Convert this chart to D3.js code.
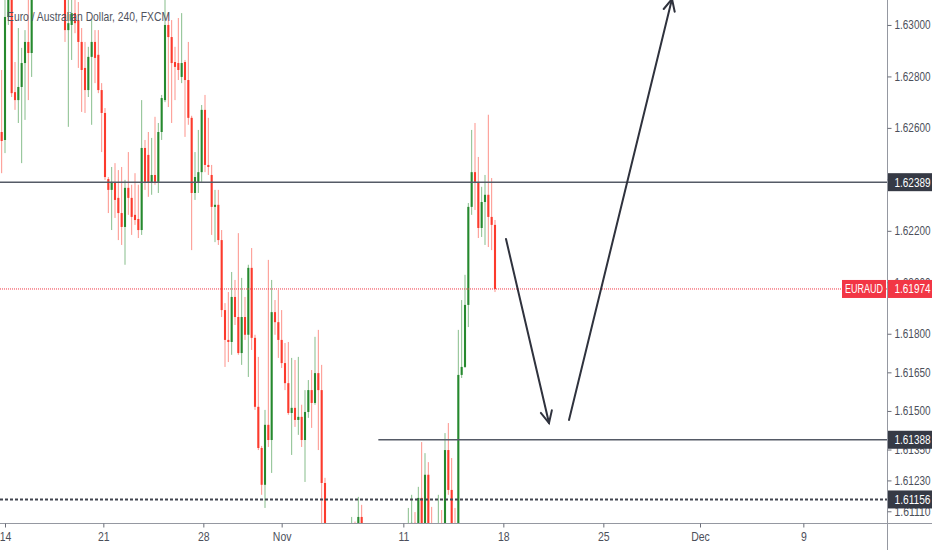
<!DOCTYPE html>
<html>
<head>
<meta charset="utf-8">
<script src="https://cdn.jsdelivr.net/npm/d3@7"></script>
<style>
  html, body { margin: 0; padding: 0; background: #fff; }
  svg { display: block; }
</style>
</head>
<body>
<div id="chart"></div>
<script>
// EUR/AUD 4h candles (bar index 0 = Oct 14 open)
var firstBar = -1;
var opens = [1.62584,1.62553,1.63031,1.63116,1.62739,1.62708,1.62759,1.62852,1.62934,1.62891,
  1.63136,1.63250,1.63210,1.63300,1.63370,1.63290,1.63200,1.63260,1.63180,1.63109,
  1.62980,1.63000,1.63046,1.63019,1.62934,1.62833,1.62747,1.62876,1.62934,1.62884,
  1.62747,1.62658,1.62401,1.62359,1.62386,1.62328,1.62269,1.62215,1.62367,1.62328,
  1.62262,1.62246,1.62203,1.62522,1.62495,1.62386,1.62417,1.62390,1.62584,1.62708,
  1.63000,1.62953,1.62856,1.62852,1.62798,1.62856,1.62786,1.62639,1.62347,1.62390,
  1.62428,1.62670,1.62456,1.62417,1.62293,1.62301,1.62164,1.61892,1.61776,1.61768,
  1.61943,1.61865,1.61725,1.61865,1.61796,1.62056,1.61784,1.61516,1.61356,1.61213,
  1.61446,1.61387,1.61884,1.61845,1.61776,1.61686,1.61608,1.61492,1.61512,1.61465,
  1.61477,1.61387,1.61496,1.61581,1.61531,1.61647,1.61581,1.61220,1.61037,1.60950,
  1.60990,1.60930,1.60960,1.61000,1.60980,1.61020,1.61050,1.61010,1.61088,1.60990,
  1.60920,1.60950,1.60900,1.60930,1.60980,1.60940,1.60910,1.60940,1.60990,1.61010,
  1.60990,1.61020,1.61030,1.61060,1.61065,1.61020,1.61162,1.61040,1.61252,1.61060,
  1.61000,1.61030,1.61060,1.61010,1.61348,1.61193,1.60990,1.60960,1.61640,1.61671,
  1.61912,1.62293,1.62428,1.62390,1.62211,1.62312,1.62340,1.62254,1.62223];
var highs = [1.62825,1.63155,1.63252,1.63175,1.62856,1.62988,1.62911,1.62980,1.63116,1.63175,
  1.63290,1.63380,1.63330,1.63420,1.63450,1.63350,1.63310,1.63300,1.63240,1.63175,
  1.63116,1.63116,1.63109,1.63089,1.62988,1.62934,1.62915,1.63019,1.62980,1.62980,
  1.62774,1.62677,1.62409,1.62448,1.62463,1.62436,1.62448,1.62398,1.62506,1.62379,
  1.62424,1.62379,1.62708,1.62553,1.62584,1.62561,1.62643,1.62619,1.62728,1.63109,
  1.63046,1.63019,1.62915,1.63027,1.63046,1.62864,1.62934,1.62647,1.62506,1.62592,
  1.62689,1.62728,1.62639,1.62456,1.62359,1.62359,1.62203,1.61919,1.61962,1.62040,
  1.62009,1.62191,1.62017,1.61943,1.62068,1.62133,1.61796,1.61710,1.61364,1.61504,
  1.62087,1.62009,1.61931,1.61970,1.61892,1.61764,1.61768,1.61706,1.61698,1.61710,
  1.61524,1.61581,1.61620,1.61659,1.61788,1.61815,1.61679,1.61240,1.61060,1.61010,
  1.61040,1.60980,1.61030,1.61050,1.61040,1.61088,1.61070,1.61166,1.61135,1.61030,
  1.60980,1.61000,1.60960,1.61010,1.61040,1.60990,1.60970,1.61010,1.61050,1.61060,
  1.61050,1.61060,1.61123,1.61174,1.61107,1.61205,1.61379,1.61336,1.61301,1.61127,
  1.61050,1.61174,1.61115,1.61414,1.61453,1.61317,1.61123,1.61815,1.61931,1.62029,
  1.62308,1.62592,1.62619,1.62487,1.62371,1.62417,1.62651,1.62405,1.62242];
var lows = [1.62424,1.62502,1.63000,1.62720,1.62670,1.62619,1.62463,1.62631,1.62708,1.62798,
  1.63110,1.63180,1.63140,1.63230,1.63260,1.63170,1.63130,1.63150,1.63110,1.62934,
  1.62604,1.62864,1.62968,1.62833,1.62662,1.62658,1.62720,1.62612,1.62774,1.62735,
  1.62506,1.62398,1.62269,1.62203,1.62250,1.62164,1.62145,1.62068,1.62262,1.62184,
  1.62223,1.62172,1.62184,1.62359,1.62332,1.62340,1.62379,1.62347,1.62553,1.62700,
  1.62681,1.62619,1.62708,1.62786,1.62774,1.62565,1.62612,1.62125,1.62320,1.62347,
  1.62390,1.62428,1.62417,1.62184,1.62156,1.62145,1.61865,1.61671,1.61690,1.61718,
  1.61834,1.61718,1.61679,1.61776,1.61632,1.61737,1.61504,1.61348,1.61174,1.61123,
  1.61360,1.61259,1.61796,1.61706,1.61667,1.61581,1.61485,1.61329,1.61438,1.61407,
  1.61360,1.61224,1.61473,1.61434,1.61524,1.61348,1.61064,1.60980,1.60920,1.60880,
  1.60900,1.60850,1.60910,1.60940,1.60930,1.60970,1.60980,1.60990,1.60960,1.60900,
  1.60850,1.60880,1.60840,1.60900,1.60920,1.60870,1.60850,1.60900,1.60950,1.60960,
  1.60940,1.60970,1.60990,1.61010,1.60980,1.61000,1.61020,1.61010,1.61000,1.60980,
  1.60950,1.60990,1.60970,1.60990,1.61174,1.60950,1.60920,1.60940,1.61628,1.61667,
  1.61826,1.62262,1.62281,1.62172,1.62176,1.62145,1.62137,1.62125,1.61962];
var closes = [1.62549,1.63031,1.63116,1.62735,1.62708,1.62759,1.62852,1.62934,1.62891,1.63136,
  1.63250,1.63210,1.63300,1.63370,1.63290,1.63200,1.63260,1.63180,1.63120,1.62980,
  1.63007,1.63046,1.63007,1.62934,1.62825,1.62747,1.62876,1.62934,1.62872,1.62747,
  1.62658,1.62409,1.62359,1.62390,1.62320,1.62269,1.62215,1.62367,1.62328,1.62254,
  1.62242,1.62203,1.62522,1.62390,1.62386,1.62417,1.62390,1.62584,1.62716,1.63000,
  1.62953,1.62852,1.62837,1.62825,1.62852,1.62786,1.62639,1.62347,1.62409,1.62428,
  1.62670,1.62456,1.62448,1.62293,1.62301,1.62164,1.61892,1.61776,1.61768,1.61943,
  1.61865,1.61725,1.61865,1.61796,1.62056,1.61784,1.61516,1.61356,1.61213,1.61446,
  1.61387,1.61884,1.61845,1.61776,1.61686,1.61608,1.61492,1.61512,1.61465,1.61477,
  1.61387,1.61496,1.61581,1.61531,1.61647,1.61581,1.61220,1.61037,1.60950,1.60990,
  1.60930,1.60960,1.61000,1.60980,1.61020,1.61050,1.61010,1.61088,1.60990,1.60920,
  1.60950,1.60900,1.60930,1.60980,1.60940,1.60910,1.60940,1.60990,1.61010,1.60990,
  1.61020,1.61030,1.61060,1.61065,1.61020,1.61162,1.61040,1.61252,1.61030,1.61000,
  1.61030,1.61060,1.61010,1.61348,1.61193,1.60990,1.60960,1.61640,1.61671,1.61912,
  1.62293,1.62428,1.62390,1.62211,1.62312,1.62340,1.62254,1.62223,1.61974];

// time axis
var timeTickBars = [0, 29.5, 59.5, 83, 119.5, 149.5, 179.5, 208.5, 239.5];
var timeTickLabels = ["14", "21", "28", "Nov", "11", "18", "25", "Dec", "9"];

// price axis
var priceTicks = [1.630, 1.628, 1.626, 1.624, 1.622, 1.620, 1.618, 1.6165, 1.615, 1.6135, 1.6123, 1.6111];

// drawn levels
var resistanceLevel = 1.62389;
var supportLevel = 1.61388;
var supportStartBar = 112;
var lowLevel = 1.61156;
var lastPrice = 1.61974;
var symbolName = "EURAUD";
var title = "Euro / Australian Dollar, 240, FXCM";

// arrows: [startBar, startPrice, endBar, endPrice]
var arrows = [[150.3, 1.62168, 163.2, 1.61453],
              [169.2, 1.61465, 200.1, 1.63101]];

var W = 932, H = 550;
var plotW = 887, plotH = 523;
var upColor = "#26892e", downColor = "#fc3a2c";
var font = "'Liberation Sans', Arial, sans-serif";
var squeeze = 0.84;   // condensed look of the axis font

var x = d3.scaleLinear().domain([-1.5, 264.6]).range([0, plotW]);
var y = d3.scaleLinear().domain([1.610645, 1.63097]).range([plotH, 0]);

var bars = opens.map(function(o, k) {
    return {i: firstBar + k, o: o, h: highs[k], l: lows[k], c: closes[k]};
});

var svg = d3.select("#chart").append("svg")
    .attr("width", W)
    .attr("height", H);

svg.append("rect").attr("width", W).attr("height", H).attr("fill", "#fff");

svg.append("clipPath").attr("id", "plot")
    .append("rect").attr("width", plotW).attr("height", plotH);

var plot = svg.append("g").attr("clip-path", "url(#plot)");

// candles
var barW = 2.1;
var candle = plot.selectAll(".candle")
    .data(bars)
    .enter().append("g")
    .attr("class", "candle");

candle.append("line")
    .attr("x1", d => x(d.i)).attr("x2", d => x(d.i))
    .attr("y1", d => y(d.h)).attr("y2", d => y(d.l))
    .attr("stroke", d => d.c >= d.o ? upColor : downColor)
    .attr("stroke-opacity", 0.55)
    .attr("stroke-width", 1);

candle.append("rect")
    .attr("x", d => x(d.i) - barW / 2)
    .attr("width", barW)
    .attr("y", d => y(Math.max(d.o, d.c)))
    .attr("height", d => Math.max(1, Math.abs(y(d.o) - y(d.c))))
    .attr("fill", d => d.c >= d.o ? upColor : downColor);

// horizontal levels
plot.append("line")
    .attr("x1", 0).attr("x2", plotW)
    .attr("y1", y(resistanceLevel)).attr("y2", y(resistanceLevel))
    .attr("stroke", "#555a66").attr("stroke-width", 1.5);

plot.append("line")
    .attr("x1", x(supportStartBar)).attr("x2", plotW)
    .attr("y1", y(supportLevel)).attr("y2", y(supportLevel))
    .attr("stroke", "#555a66").attr("stroke-width", 1.5);

plot.append("line")
    .attr("x1", 0).attr("x2", plotW)
    .attr("y1", y(lowLevel)).attr("y2", y(lowLevel))
    .attr("stroke", "#41444e").attr("stroke-width", 2)
    .attr("stroke-dasharray", "3,2");

plot.append("line")
    .attr("x1", 0).attr("x2", plotW)
    .attr("y1", y(lastPrice)).attr("y2", y(lastPrice))
    .attr("stroke", "#f23645").attr("stroke-width", 1)
    .attr("stroke-dasharray", "1,1");

// arrows
arrows.forEach(function(a) {
    var x1 = x(a[0]), y1 = y(a[1]), x2 = x(a[2]), y2 = y(a[3]);
    var ang = Math.atan2(y2 - y1, x2 - x1);
    var len = 13, spread = 0.45;
    var g = plot.append("g")
        .attr("stroke", "#2f323d").attr("stroke-width", 2)
        .attr("stroke-linecap", "round").attr("fill", "none");
    g.append("line").attr("x1", x1).attr("y1", y1).attr("x2", x2).attr("y2", y2);
    g.append("path").attr("d",
        "M" + (x2 - len * Math.cos(ang - spread)) + "," + (y2 - len * Math.sin(ang - spread)) +
        "L" + x2 + "," + y2 +
        "L" + (x2 - len * Math.cos(ang + spread)) + "," + (y2 - len * Math.sin(ang + spread)));
});

// title
svg.append("text")
    .attr("x", 7).attr("y", 21)
    .attr("font-family", font)
    .attr("font-size", 13)
    .attr("fill", "#50535e")
    .attr("textLength", 163)
    .attr("lengthAdjust", "spacingAndGlyphs")
    .text(title);

// axes frame
svg.append("line")
    .attr("x1", 0).attr("x2", W).attr("y1", plotH + 0.5).attr("y2", plotH + 0.5)
    .attr("stroke", "#9598a1").attr("stroke-width", 1);
svg.append("line")
    .attr("x1", plotW + 0.5).attr("x2", plotW + 0.5).attr("y1", 0).attr("y2", H)
    .attr("stroke", "#9598a1").attr("stroke-width", 1);

// time axis
var xAxis = d3.axisBottom(x)
    .tickValues(timeTickBars)
    .tickFormat((d, i) => timeTickLabels[i])
    .tickSize(4)
    .tickPadding(5);
var gx = svg.append("g")
    .attr("transform", "translate(0," + (plotH + 0.5) + ")")
    .call(xAxis);
gx.select(".domain").remove();
gx.selectAll("line").attr("stroke", "#6a6d78");
gx.selectAll("text")
    .attr("font-family", font).attr("font-size", 12.5)
    .attr("fill", "#4c4f5a")
    .attr("transform", "scale(" + squeeze + ",1)");

// price axis
var yAxis = d3.axisRight(y)
    .tickValues(priceTicks)
    .tickFormat(d3.format(".5f"))
    .tickSize(4)
    .tickPadding(3);
var gy = svg.append("g")
    .attr("transform", "translate(" + (plotW + 0.5) + ",0)")
    .call(yAxis);
gy.select(".domain").remove();
gy.selectAll("line").attr("stroke", "#6a6d78");
gy.selectAll("text")
    .attr("font-family", font).attr("font-size", 12)
    .attr("fill", "#4c4f5a")
    .attr("textLength", 36)
    .attr("lengthAdjust", "spacingAndGlyphs");

// price labels on the axis
function priceLabel(v, fill) {
    var g = svg.append("g").attr("transform", "translate(" + (plotW + 1) + "," + y(v) + ")");
    g.append("rect").attr("x", 0).attr("y", -9).attr("width", W - plotW).attr("height", 18)
        .attr("fill", fill);
    g.append("text").attr("x", 6.5).attr("y", 4.5)
        .attr("font-family", font).attr("font-size", 12)
        .attr("fill", "#fff")
        .attr("textLength", 36)
        .attr("lengthAdjust", "spacingAndGlyphs")
        .text(d3.format(".5f")(v));
}
priceLabel(resistanceLevel, "#363a45");
priceLabel(supportLevel, "#363a45");
priceLabel(lowLevel, "#363a45");
priceLabel(lastPrice, "#f23645");

var sym = svg.append("g").attr("transform", "translate(842," + y(lastPrice) + ")");
sym.append("rect").attr("x", 0).attr("y", -9).attr("width", 44).attr("height", 18)
    .attr("fill", "#f23645");
sym.append("text").attr("x", 3).attr("y", 4.5)
    .attr("font-family", font).attr("font-size", 12)
    .attr("fill", "#fff")
    .attr("textLength", 38)
    .attr("lengthAdjust", "spacingAndGlyphs")
    .text(symbolName);
</script>
</body>
</html>
